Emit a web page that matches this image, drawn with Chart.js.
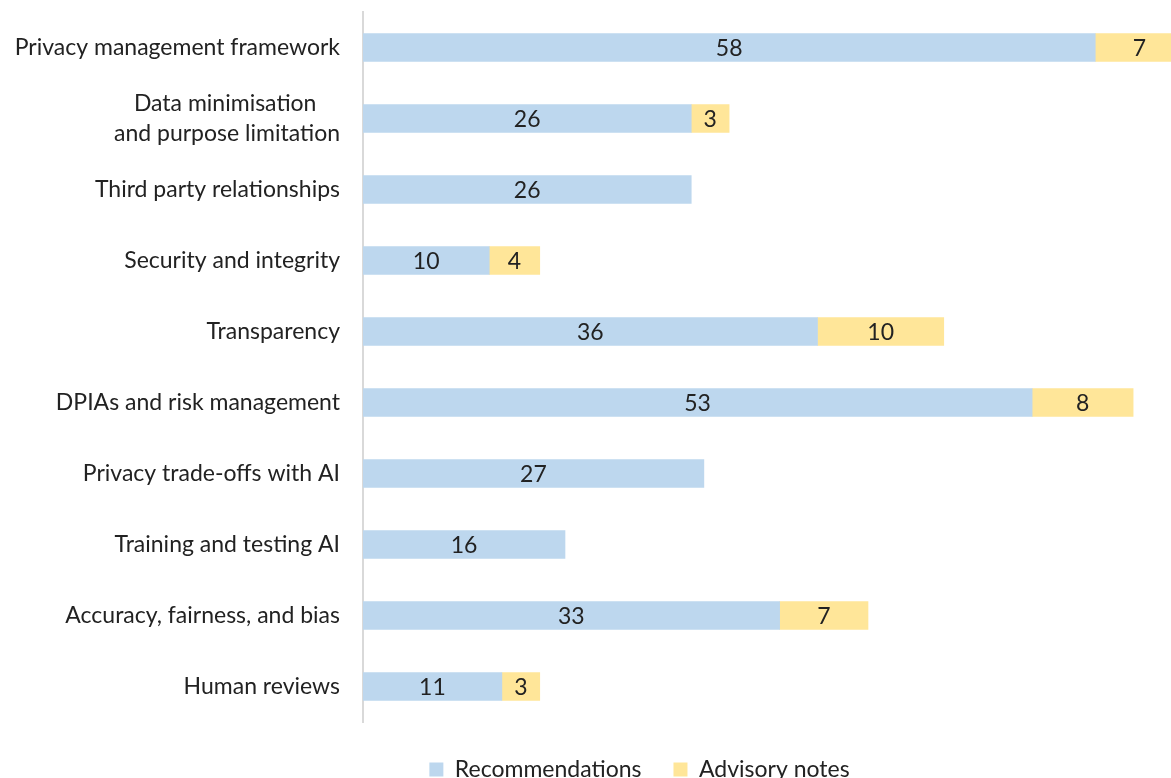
<!DOCTYPE html>
<html>
<head>
<meta charset="utf-8">
<script src="https://cdn.jsdelivr.net/npm/chart.js@4/dist/chart.umd.min.js"></script>
<style>
html,body{margin:0;padding:0;background:#fff;}
#wrap{width:1171px;height:778px;}
</style>
</head>
<body>
<div id="wrap"><canvas id="c" width="1171" height="778"></canvas></div>
<script>
const categories = [
  "Privacy management framework",
  ["Data minimisation    ", "and purpose limitation"],
  "Third party relationships",
  "Security and integrity",
  "Transparency",
  "DPIAs and risk management",
  "Privacy trade-offs with AI",
  "Training and testing AI",
  "Accuracy, fairness, and bias",
  "Human reviews"
];
const recommendations = [58, 26, 26, 10, 36, 53, 27, 16, 33, 11];
const advisoryNotes = [7, 3, null, 4, 10, 8, null, null, 7, 3];
const seriesNames = ["Recommendations", "Advisory notes"];

const FONT = "Lato, 'Open Sans', sans-serif";
const TEXT = "#222222";

const labelPlugin = {
  id: 'barLabels',
  afterLayout(chart) {
    const lg = chart.legend;
    if (lg) {
      lg.left += 54; lg.right += 54;
      lg.top += 4; lg.bottom += 4;
    }
  },
  afterDatasetsDraw(chart) {
    const ctx = chart.ctx;
    ctx.save();
    ctx.font = "23px " + FONT;
    ctx.fillStyle = TEXT;
    ctx.textAlign = 'center';
    ctx.textBaseline = 'middle';
    chart.data.datasets.forEach((ds, di) => {
      const meta = chart.getDatasetMeta(di);
      meta.data.forEach((el, i) => {
        const v = ds.data[i];
        if (v === null || v === undefined) return;
        const p = el.getProps(['x', 'y', 'base'], true);
        ctx.fillText(String(v), (p.x + p.base) / 2, p.y + 1);
      });
    });
    ctx.restore();
  }
};

new Chart(document.getElementById('c'), {
  type: 'bar',
  data: {
    labels: categories,
    datasets: [
      { label: seriesNames[0], data: recommendations, backgroundColor: '#BDD7EE', barThickness: 28 },
      { label: seriesNames[1], data: advisoryNotes, backgroundColor: '#FFE699', barThickness: 28 }
    ]
  },
  options: {
    indexAxis: 'y',
    responsive: false,
    animation: false,
    events: [],
    layout: { padding: { top: 12, left: 0, right: 0, bottom: -9 } },
    scales: {
      x: { stacked: true, display: false, min: 0, max: 64 },
      y: {
        stacked: true,
        grid: { display: false, drawTicks: false },
        border: { display: true, color: '#D9D9D9', width: 2 },
        ticks: { color: TEXT, font: { family: FONT, size: 23, lineHeight: 1.3 }, padding: 23, autoSkip: false },
        afterFit(axis) { axis.width = 363; axis.paddingTop = 0; axis.paddingBottom = 0; }
      }
    },
    plugins: {
      legend: {
        position: 'bottom',
        labels: {
          boxWidth: 14, boxHeight: 14, color: TEXT,
          font: { family: FONT, size: 23 }, padding: 32
        }
      },
      tooltip: { enabled: false }
    }
  },
  plugins: [labelPlugin]
});
</script>
</body>
</html>
